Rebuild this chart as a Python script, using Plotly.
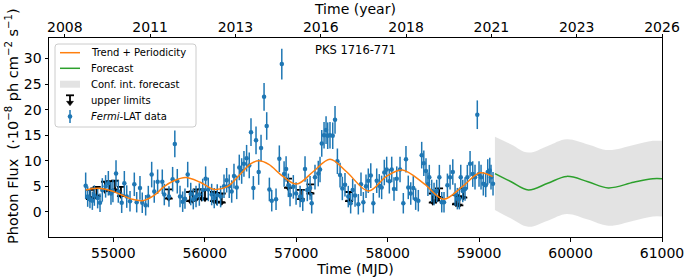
import plotly.graph_objects as go

# ---------------- data ----------------
mjd = [54697, 54719, 54744, 54770, 54792, 54828, 54854, 54879, 54915, 54945,
       54974, 54995, 55029, 55054, 55091, 55120, 55146, 55182, 55229, 55255,
       55291, 55316, 55353, 55382, 55419, 55447, 55484, 55535, 55557, 55608,
       55648, 55672, 55699, 55729, 55758, 55783, 55813, 55846, 55874, 55904,
       55940, 55977, 56009, 56038, 56075, 56103, 56136, 56173, 56210, 56239,
       56267, 56294, 56319, 56349, 56377, 56403, 56428, 56457, 56486, 56505,
       56531, 56560, 56589, 56615, 56648, 56677, 56706, 56732, 56779, 56815,
       56842, 56867, 56889, 56914, 56932, 56968, 56998, 57042, 57071, 57096,
       57121, 57151, 57169, 57205, 57241, 57260, 57279, 57304, 57326, 57344,
       57369, 57399, 57424, 57450, 57479, 57504, 57533, 57569, 57595, 57617,
       57643, 57679, 57708, 57734, 57763, 57788, 57815, 57843, 57880, 57908,
       57934, 57963, 57989, 58018, 58044, 58069, 58099, 58135, 58171, 58200,
       58225, 58252, 58280, 58306, 58335, 58372, 58395, 58419, 58440, 58455,
       58481, 58507, 58536, 58565, 58591, 58616, 58653, 58682, 58712, 58737,
       58762, 58784, 58799, 58821, 58846, 58871, 58901, 58930, 58955, 58980,
       58999, 59021, 59046, 59072, 59094, 59116, 59130, 59152]
flux = [5.1, 3.0, 2.5, 2.2, 3.2, 2.7, 1.8, 4.3, 5.0, 5.6,
        3.6, 4.1, 7.5, 4.0, 1.8, 5.6, 3.0, 2.1, 5.4, 1.9,
        4.7, 1.8, 1.3, 3.0, 7.3, 4.0, 5.9, 5.9, 3.4, 3.0,
        6.4, 13.3, 6.0, 3.0, 2.0, 2.6, 7.3, 3.5, 2.5, 3.0,
        3.4, 4.3, 6.5, 4.4, 3.4, 2.7, 3.3, 3.0, 5.0, 6.2,
        5.0, 4.0, 7.0, 4.8, 8.7, 8.0, 9.4, 10.5, 9.1, 15.6,
        4.7, 14.0, 7.8, 12.5, 22.5, 16.8, 4.4, 2.2, 2.5, 10.4,
        28.9, 7.4, 8.4, 5.2, 3.3, 4.9, 3.6, 3.0, 2.3, 8.4,
        4.3, 4.7, 1.7, 6.8, 7.5, 8.3, 13.4, 15.0, 16.0, 14.9,
        15.0, 14.9, 18.0, 9.9, 7.2, 4.6, 5.3, 3.0, 1.7, 4.3,
        3.2, 1.5, 5.4, 1.9, 5.0, 6.1, 7.1, 1.7, 6.1, 5.1,
        4.8, 7.7, 8.3, 6.0, 8.3, 4.5, 6.5, 8.3, 1.7, 10.3,
        4.8, 3.6, 4.7, 2.5, 2.2, 11.1, 9.5, 8.0, 5.4, 6.8,
        4.1, 3.5, 4.1, 6.8, 1.9, 1.9, 5.2, 6.8, 7.8, 3.4,
        2.6, 2.6, 6.8, 4.1, 4.5, 6.8, 9.4, 7.4, 6.8, 19.0,
        7.4, 6.8, 5.5, 5.2, 7.8, 8.1, 6.8, 5.5]
flux_err = [2.6, 2.0, 1.8, 1.8, 2.0, 2.0, 1.8, 2.3, 2.2, 2.4,
            2.2, 2.2, 2.6, 2.2, 2.0, 2.4, 2.2, 2.0, 2.3, 2.0,
            2.3, 2.0, 2.0, 2.1, 2.5, 2.2, 2.4, 2.4, 2.1, 2.0,
            2.4, 2.6, 2.4, 2.1, 2.0, 2.0, 2.5, 2.2, 2.0, 2.1,
            2.2, 2.2, 2.4, 2.3, 2.1, 2.0, 2.1, 2.1, 2.3, 2.4,
            2.3, 2.2, 2.4, 2.3, 2.5, 2.5, 2.5, 2.6, 2.5, 2.7,
            2.3, 2.7, 2.5, 2.6, 2.7, 2.7, 2.3, 2.1, 2.1, 2.6,
            3.0, 2.5, 2.5, 2.3, 2.2, 2.3, 2.2, 2.1, 2.1, 2.5,
            2.2, 2.3, 2.0, 2.4, 2.5, 2.5, 2.6, 2.6, 2.7, 2.6,
            2.6, 2.6, 2.7, 2.5, 2.4, 2.3, 2.3, 2.1, 2.0, 2.2,
            2.2, 2.0, 2.3, 2.0, 2.3, 2.4, 2.4, 2.0, 2.4, 2.3,
            2.3, 2.5, 2.5, 2.4, 2.5, 2.3, 2.4, 2.5, 2.0, 2.6,
            2.3, 2.2, 2.3, 2.1, 2.1, 2.6, 2.5, 2.5, 2.3, 2.4,
            2.2, 2.2, 2.2, 2.4, 2.0, 2.0, 2.3, 2.4, 2.5, 2.2,
            2.1, 2.1, 2.4, 2.2, 2.3, 2.4, 2.5, 2.5, 2.4, 2.8,
            2.5, 2.4, 2.3, 2.3, 2.5, 2.5, 2.4, 2.3]

ul_mjd = [54744, 54792, 54818, 54908, 54963, 55018, 55083, 55605, 55839, 55868,
          55912, 55966, 56002, 56100, 56130, 56185, 56910, 57050, 57155, 57577,
          58493, 58529, 58562, 58747, 58784, 58827]
ul_flux = [4.3, 4.6, 4.9, 5.9, 6.0, 6.1, 4.9, 4.4, 3.9, 4.0,
           4.4, 4.4, 4.3, 3.9, 3.7, 3.6, 6.5, 4.3, 5.4, 3.9,
           3.6, 4.0, 4.6, 3.3, 3.1, 4.6]

trend_mjd = [54697, 54790, 54900, 55000, 55091, 55200, 55320, 55450, 55550, 55650,
             55790, 55950, 56100, 56250, 56400, 56500, 56590, 56700, 56850, 57005,
             57187, 57369, 57550, 57790, 57989, 58160, 58400, 58612, 58820, 59010,
             59148]
trend_flux = [4.3, 4.6, 4.5, 4.0, 3.3, 2.5, 2.2, 3.3, 4.9, 6.0,
              6.75, 5.8, 4.4, 5.0, 7.6, 9.4, 10.0, 9.3, 7.0, 5.45,
              7.9, 10.3, 7.85, 4.1, 7.0, 8.2, 5.5, 2.5, 5.0, 7.65,
              6.9]

fc_mjd = [59173, 59350, 59538, 59750, 59958, 60190, 60413, 60690, 60900, 61000]
fc_flux = [7.5, 5.9, 4.3, 5.6, 6.95, 5.9, 4.7, 5.8, 6.5, 6.5]
fc_upper = [14.7, 13.2, 11.6, 12.9, 14.2, 13.2, 12.1, 13.1, 13.9, 13.9]
fc_lower = [0.4, -1.3, -2.9, -1.7, -0.4, -1.5, -2.7, -1.7, -0.9, -0.9]

bottom_ticks = [55000, 56000, 57000, 58000, 59000, 60000, 61000]
bottom_labels = ["55000", "56000", "57000", "58000", "59000", "60000", "61000"]
year_tick_mjd = [54469, 55402, 56335, 57268, 58201, 59134, 60067, 61000]
year_labels = ["2008", "2011", "2013", "2016", "2018", "2021", "2023", "2026"]
y_ticks = [0, 5, 10, 15, 20, 25, 30]

legend_labels = ["Trend + Periodicity", "Forecast", "Conf. int. forecast",
                 "upper limits", "<i>Fermi</i>-LAT data"]

# ---------------- styling ----------------
X_RANGE = [54296, 61000]
Y_RANGE = [-4.9, 34.0]
UL_ARROW = 1.8
FONT = "DejaVu Sans"
BLUE = "#1f77b4"
ORANGE = "#ff7f0e"
GREEN = "#2ca02c"
BAND = "rgba(200,200,200,0.5)"

W, H = 687, 278
PL, PR, PT, PB = 49, 662, 38, 237   # plot area in window pixels


def px(xp):
    return (xp - PL) / (PR - PL)


def py(yp):
    return (PB - yp) / (PB - PT)


fig = go.Figure()

# confidence band
fig.add_trace(go.Scatter(x=fc_mjd, y=fc_lower, mode="lines", line=dict(width=0, shape="spline"),
                         showlegend=False, hoverinfo="skip"))
fig.add_trace(go.Scatter(x=fc_mjd, y=fc_upper, mode="lines", line=dict(width=0, shape="spline"),
                         fill="tonexty", fillcolor=BAND, showlegend=False))

# upper limits
ul_tip = [v - UL_ARROW for v in ul_flux]
fig.add_trace(go.Scatter(x=ul_mjd, y=ul_tip, mode="markers",
                         marker=dict(color="black", size=6, symbol="triangle-down"),
                         error_y=dict(type="data", symmetric=False, array=[UL_ARROW] * len(ul_tip),
                                      arrayminus=[0] * len(ul_tip), color="black", thickness=1.8, width=4),
                         showlegend=False))

# data
fig.add_trace(go.Scatter(x=mjd, y=flux, mode="markers",
                         marker=dict(color=BLUE, size=4.5),
                         error_y=dict(type="data", array=flux_err, color=BLUE, thickness=1.5, width=0),
                         showlegend=False))

# trend + periodicity and forecast
fig.add_trace(go.Scatter(x=trend_mjd, y=trend_flux, mode="lines",
                         line=dict(color=ORANGE, width=1.5, shape="spline"), showlegend=False))
fig.add_trace(go.Scatter(x=fc_mjd, y=fc_flux, mode="lines",
                         line=dict(color=GREEN, width=1.5, shape="spline"), showlegend=False))

# anchor for the top (year) axis
fig.add_trace(go.Scatter(x=[X_RANGE[0]], y=[None], xaxis="x2", mode="lines",
                         showlegend=False, hoverinfo="skip"))

# ---------------- manual legend (matplotlib look) ----------------
shapes = []
bx0, bx1, by0, by1, r = 55, 196, 44, 127, 3
rx, ry = r / (PR - PL), r / (PB - PT)
X0, X1, Y0, Y1 = px(bx0), px(bx1), py(by0), py(by1)
path = (f"M {X0+rx},{Y0} L {X1-rx},{Y0} Q {X1},{Y0} {X1},{Y0-ry} "
        f"L {X1},{Y1+ry} Q {X1},{Y1} {X1-rx},{Y1} L {X0+rx},{Y1} Q {X0},{Y1} {X0},{Y1+ry} "
        f"L {X0},{Y0-ry} Q {X0},{Y0} {X0+rx},{Y0} Z")
shapes.append(dict(type="path", xref="paper", yref="paper", path=path,
                   fillcolor="rgba(255,255,255,0.8)", line=dict(color="#cccccc", width=1)))
rows = [52.7, 68.3, 84.2, 100.3, 116.5]
gx0, gx1, gxc = 60, 80, 70
shapes.append(dict(type="line", xref="paper", yref="paper", x0=px(gx0), x1=px(gx1), y0=py(rows[0]),
                   y1=py(rows[0]), line=dict(color=ORANGE, width=1.5)))
shapes.append(dict(type="line", xref="paper", yref="paper", x0=px(gx0), x1=px(gx1), y0=py(rows[1]),
                   y1=py(rows[1]), line=dict(color=GREEN, width=1.5)))
shapes.append(dict(type="rect", xref="paper", yref="paper", x0=px(gx0), x1=px(gx1), y0=py(rows[2] - 3.5),
                   y1=py(rows[2] + 3.5), fillcolor=BAND, line=dict(width=0)))
# upper-limit glyph: cap, stem, arrow head
yc = rows[3]
shapes.append(dict(type="line", xref="paper", yref="paper", x0=px(gxc - 4), x1=px(gxc + 4), y0=py(yc - 5),
                   y1=py(yc - 5), line=dict(color="black", width=1.8)))
shapes.append(dict(type="line", xref="paper", yref="paper", x0=px(gxc), x1=px(gxc), y0=py(yc - 5),
                   y1=py(yc + 2), line=dict(color="black", width=1.8)))
shapes.append(dict(type="path", xref="paper", yref="paper",
                   path=f"M {px(gxc-3.5)},{py(yc+1)} L {px(gxc+3.5)},{py(yc+1)} L {px(gxc)},{py(yc+5.5)} Z",
                   fillcolor="black", line=dict(color="black", width=0.5)))
# data glyph: error bar + dot
yc = rows[4]
shapes.append(dict(type="line", xref="paper", yref="paper", x0=px(gxc), x1=px(gxc), y0=py(yc - 6.5),
                   y1=py(yc + 6.5), line=dict(color=BLUE, width=1.5)))
shapes.append(dict(type="circle", xref="paper", yref="paper", x0=px(gxc - 2.3), x1=px(gxc + 2.3),
                   y0=py(yc - 2.3), y1=py(yc + 2.3), fillcolor=BLUE, line=dict(color=BLUE, width=0)))

annotations = []
for lab, yr in zip(legend_labels, rows):
    annotations.append(dict(x=px(89), y=py(yr), xref="paper", yref="paper", text=lab, showarrow=False,
                            xanchor="left", yanchor="middle", font=dict(family=FONT, size=10, color="black")))
annotations.append(dict(x=57643, y=31.6, xref="x", yref="y", text="PKS 1716-771", showarrow=False,
                        font=dict(family=FONT, size=11.5, color="black"), xanchor="center", yanchor="middle"))
# axis titles placed as annotations for exact positioning
annotations.append(dict(x=px(355), y=py(9), xref="paper", yref="paper", text="Time (year)", showarrow=False,
                        xanchor="center", yanchor="middle", borderpad=0,
                        font=dict(family=FONT, size=14, color="black")))
annotations.append(dict(x=px(12), y=py(126), xref="paper", yref="paper",
                        text="Photon Flux  (·10<sup>−8</sup> ph cm<sup>−2</sup> s<sup>−1</sup>)",
                        showarrow=False, textangle=-90, xanchor="center", yanchor="middle", borderpad=0,
                        font=dict(family=FONT, size=14.5, color="black")))

axis_common = dict(showline=True, linecolor="black", linewidth=1, showgrid=False, zeroline=False,
                   ticks="outside", ticklen=3.5, tickcolor="black", automargin=False,
                   tickfont=dict(family=FONT, size=14, color="black"))

fig.update_layout(
    width=W, height=H,
    margin=dict(l=PL, r=W - PR, t=PT, b=H - PB),
    paper_bgcolor="white", plot_bgcolor="white",
    font=dict(family=FONT, color="black"),
    xaxis=dict(range=X_RANGE, tickvals=bottom_ticks, ticktext=bottom_labels, mirror=True,
               title=dict(text="Time (MJD)", font=dict(family=FONT, size=14), standoff=0),
               **axis_common),
    xaxis2=dict(range=X_RANGE, overlaying="x", side="top", tickvals=year_tick_mjd, ticktext=year_labels,
                ticklabelstandoff=-4, **axis_common),
    yaxis=dict(range=Y_RANGE, tickvals=y_ticks, mirror=True, **axis_common),
    showlegend=False,
    shapes=shapes,
    annotations=annotations,
)

# remove the browser's default page margin so the figure sits at the window origin
fig.write_html("out.html", config={"displayModeBar": False},
               post_script="document.body.style.margin='0';")
